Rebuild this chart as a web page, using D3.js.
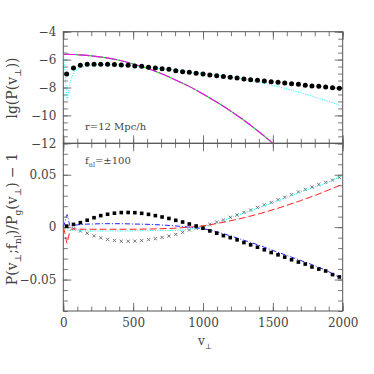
<!DOCTYPE html>
<html>
<head>
<meta charset="utf-8">
<script src="https://cdn.jsdelivr.net/npm/d3@7"></script>
<style>
  body { margin: 0; background: #fff; }
  svg text { font-family: 'DejaVu Serif', serif; fill: #444; }
</style>
</head>
<body>
<svg id="canvas" width="374" height="374"></svg>
<script>
// marker bins (v_perp)
let binV = [24, 73, 122, 171, 220, 268, 317, 366, 415, 464, 512, 561, 610, 659, 707, 756, 805, 854, 902, 951,
            1000, 1049, 1098, 1146, 1195, 1244, 1293, 1341, 1390, 1439, 1488, 1537, 1585, 1634, 1683, 1732, 1780, 1829, 1878, 1927, 1976]

// top panel: lg P(v) measured
let circleVals = [-7.03, -6.60, -6.41, -6.34, -6.34, -6.34, -6.34, -6.36, -6.39, -6.41, -6.46, -6.48, -6.55, -6.60, -6.65, -6.70, -6.80, -6.87,
                  -6.91, -6.98, -7.03, -7.10, -7.15, -7.22, -7.27, -7.32, -7.39, -7.44, -7.48, -7.53, -7.58, -7.63, -7.68, -7.73, -7.77, -7.84, -7.89, -7.91, -7.96, -8.01, -8.06]

// bottom panel: ratio - 1 for f_nl = +100 (squares) and -100 (crosses)
let squareVals = [0.001, 0.0026, 0.0043, 0.0066, 0.009, 0.011, 0.0123, 0.0133, 0.0139, 0.014, 0.0138, 0.0132, 0.0122, 0.011, 0.0097, 0.0083, 0.0065, 0.0049,
                  0.003, 0.0011, -0.001, -0.0036, -0.0058, -0.0081, -0.01, -0.0121, -0.0147, -0.0169, -0.0191, -0.0216, -0.0242, -0.0264, -0.0286, -0.0311, -0.0333, -0.0352, -0.038, -0.04, -0.0418, -0.0453, -0.0475]
let crossVals = [0, -0.0015, -0.0037, -0.0058, -0.0083, -0.0102, -0.0117, -0.0127, -0.0134, -0.0135, -0.0133, -0.0128, -0.0119, -0.011, -0.0098, -0.0085, -0.0069, -0.0049,
                 -0.0027, -0.001, 0.0005, 0.0027, 0.0049, 0.0068, 0.0094, 0.0116, 0.0141, 0.0163, 0.0189, 0.0213, 0.0235, 0.0262, 0.0286, 0.031, 0.0336, 0.036, 0.0383, 0.0407, 0.0427, 0.0449, 0.0474]

// model curves
let lineV = [0, 10, 20, 27, 35, 50, 70, 100, 150, 200, 300, 400, 500, 600, 700, 800, 900, 1000, 1100, 1200, 1300, 1400, 1500, 1600, 1700, 1800, 1900, 2000]
let gaussVals = [-5.62, -5.62, -5.62, -5.62, -5.62, -5.63, -5.63, -5.65, -5.68, -5.73, -5.86, -6.05, -6.31, -6.62, -7.0, -7.44, -7.92, -8.46, -9.06, -9.7, -10.4, -11.17, -12.0, -12.9, -13.8, -14.8, -15.9, -17.0]
let modelVals = [-5.65, -6.6, -8.0, -8.9, -8.5, -7.6, -7.05, -6.7, -6.5, -6.42, -6.36, -6.38, -6.45, -6.55, -6.65, -6.76, -6.88, -6.98, -7.1, -7.25, -7.42, -7.62, -7.85, -8.1, -8.38, -8.68, -9.0, -9.33]
let blueVals = [0, 0.004, 0.009, 0.012, 0.008, 0.001, 0.0015, 0.0022, 0.0028, 0.003, 0.0033, 0.0033, 0.003, 0.0027, 0.0021, 0.0012, 0, -0.0015, -0.0045, -0.0085, -0.0128, -0.0172, -0.0222, -0.027, -0.0318, -0.0368, -0.0425, -0.0498]
let redVals = [0, -0.005, -0.012, -0.0155, -0.011, -0.003, -0.0015, -0.0018, -0.002, -0.002, -0.002, -0.002, -0.002, -0.0018, -0.0015, -0.001, 0, 0.0012, 0.0035, 0.0062, 0.0092, 0.0127, 0.0166, 0.0208, 0.0254, 0.0302, 0.0355, 0.041]
let cyanVals = [0, -0.001, -0.002, -0.0025, -0.003, -0.003, -0.0032, -0.0034, -0.0035, -0.0036, -0.0036, -0.0036, -0.0035, -0.0033, -0.0031, -0.003, -0.002, 0.0003, 0.0042, 0.009, 0.0138, 0.0185, 0.0233, 0.0284, 0.0335, 0.0383, 0.0432, 0.0495]

let xTicks = [0, 500, 1000, 1500, 2000]
let topTicks = [-4, -6, -8, -10, -12]
let botTicks = [-0.05, 0, 0.05]

let canvas = d3.select('#canvas')

let left = 63.3, right = 342.7
let topY0 = 31.7, midY = 143.3, botY1 = 311

let xScale = d3.scaleLinear().domain([0, 2000]).range([left, right])
let yTop = d3.scaleLinear().domain([-12, -4]).range([midY, topY0])
let yBot = d3.scaleLinear().domain([-0.08, 0.08]).range([botY1, midY])

let minorX = d3.range(0, 2001, 100)
let minorTop = d3.range(-12, -3.9, 0.5)
let minorBot = d3.range(-8, 8.1, 1).map(d => d / 100)

canvas.append('defs').append('clipPath').attr('id', 'clipTop')
      .append('rect').attr('x', left).attr('y', topY0).attr('width', right - left).attr('height', midY - topY0)
canvas.select('defs').append('clipPath').attr('id', 'clipBot')
      .append('rect').attr('x', left).attr('y', midY).attr('width', right - left).attr('height', botY1 - midY)

let styleAxis = (g) => {
    g.select('.domain').remove()
    g.selectAll('line').attr('stroke', '#666').attr('stroke-width', 0.9)
    g.selectAll('text').attr('font-size', 12).attr('font-family', 'DejaVu Serif').attr('fill', '#444')
}

let drawAxes = (yScale, y0, y1, majorY, minorY, yFormat, showX) => {
    let axes = [
        [d3.axisBottom(xScale), 'translate(0,' + y1 + ')', xTicks, minorX, showX ? (d => d) : ''],
        [d3.axisTop(xScale), 'translate(0,' + y0 + ')', xTicks, minorX, ''],
        [d3.axisLeft(yScale), 'translate(' + left + ',0)', majorY, minorY, yFormat],
        [d3.axisRight(yScale), 'translate(' + right + ',0)', majorY, minorY, '']
    ]
    axes.forEach(([axis, tr, major, minor, fmt]) => {
        canvas.append('g').attr('transform', tr)
              .call(axis.tickValues(minor).tickSize(-4.5).tickSizeOuter(0).tickFormat(''))
              .call(styleAxis)
        canvas.append('g').attr('transform', tr)
              .call(axis.tickValues(major).tickSize(-8).tickSizeOuter(0).tickPadding(7).tickFormat(fmt))
              .call(styleAxis)
    })
    canvas.append('rect')
          .attr('x', left).attr('y', y0)
          .attr('width', right - left).attr('height', y1 - y0)
          .attr('fill', 'none').attr('stroke', '#555').attr('stroke-width', 1)
}

drawAxes(yTop, topY0, midY, topTicks, minorTop, d => d3.format('d')(d), false)
drawAxes(yBot, midY, botY1, botTicks, minorBot, d => d === 0 ? '0' : d3.format('.2f')(d), true)

// top panel
let topG = canvas.append('g').attr('clip-path', 'url(#clipTop)')
let lineTop = d3.line().x((d, i) => xScale(lineV[i])).y(d => yTop(d)).curve(d3.curveMonotoneX)

topG.append('path').attr('d', lineTop(gaussVals))
    .attr('fill', 'none').attr('stroke', '#00ee00').attr('stroke-width', 1.1)
topG.append('path').attr('d', lineTop(gaussVals))
    .attr('fill', 'none').attr('stroke', '#ff00ff').attr('stroke-width', 1.1).attr('stroke-dasharray', '12,2')
topG.append('path').attr('d', lineTop(modelVals))
    .attr('fill', 'none').attr('stroke', '#00ffff').attr('stroke-width', 1).attr('stroke-dasharray', '1,1.5')

topG.selectAll('circle')
    .data(circleVals)
    .enter()
    .append('circle')
    .attr('cx', (d, i) => xScale(binV[i]))
    .attr('cy', d => yTop(d))
    .attr('r', 2.5)
    .attr('fill', '#000')

// bottom panel
let botG = canvas.append('g').attr('clip-path', 'url(#clipBot)')
let lineBot = d3.line().x((d, i) => xScale(lineV[i])).y(d => yBot(d)).curve(d3.curveMonotoneX)

botG.selectAll('.cross')
    .data(crossVals)
    .enter()
    .append('path')
    .attr('class', 'cross')
    .attr('transform', (d, i) => 'translate(' + xScale(binV[i]) + ',' + yBot(d) + ')')
    .attr('d', 'M-1.6,-1.6L1.6,1.6M-1.6,1.6L1.6,-1.6')
    .attr('stroke', '#666').attr('stroke-width', 0.9)

botG.append('path').attr('d', lineBot(cyanVals))
    .attr('fill', 'none').attr('stroke', '#00ffff').attr('stroke-width', 1).attr('stroke-dasharray', '1,1.5')
botG.append('path').attr('d', lineBot(redVals))
    .attr('fill', 'none').attr('stroke', '#ff2020').attr('stroke-width', 1).attr('stroke-dasharray', '7,3')
botG.append('path').attr('d', lineBot(blueVals))
    .attr('fill', 'none').attr('stroke', '#2020ff').attr('stroke-width', 1).attr('stroke-dasharray', '5,2,1,2')

botG.selectAll('rect.sq')
    .data(squareVals)
    .enter()
    .append('rect')
    .attr('class', 'sq')
    .attr('x', (d, i) => xScale(binV[i]) - 1.8)
    .attr('y', d => yBot(d) - 1.8)
    .attr('width', 3.6)
    .attr('height', 3.6)
    .attr('fill', '#000')

// labels
let richText = (x, y, parts, size, rotate) => {
    let t = canvas.append('text')
                  .attr('font-size', size)
                  .attr('text-anchor', rotate ? 'middle' : 'start')
                  .attr('transform', 'translate(' + x + ',' + y + ')' + (rotate ? ' rotate(-90)' : ''))
    let shift = 0
    parts.forEach(([s, sub]) => {
        let want = sub ? size * 0.3 : 0
        t.append('tspan')
         .attr('dy', want - shift)
         .attr('font-size', sub ? size * 0.65 : size)
         .text(s)
        shift = want
    })
    return t
}

richText(17, 88, [['lg(P(v'], ['\u22a5', true], ['))']], 14, true)
richText(17, 219, [['P(v'], ['\u22a5', true], [';f'], ['nl', true], [')/P'], ['g', true], ['(v'], ['\u22a5', true], [') \u2212 1']], 14, true)
richText(198, 345, [['v'], ['\u22a5', true]], 12, false)
richText(85, 130, [['r=12 Mpc/h']], 10, false)
richText(85, 164, [['f'], ['nl', true], ['=\u00b1100']], 10, false)
</script>
</body>
</html>
